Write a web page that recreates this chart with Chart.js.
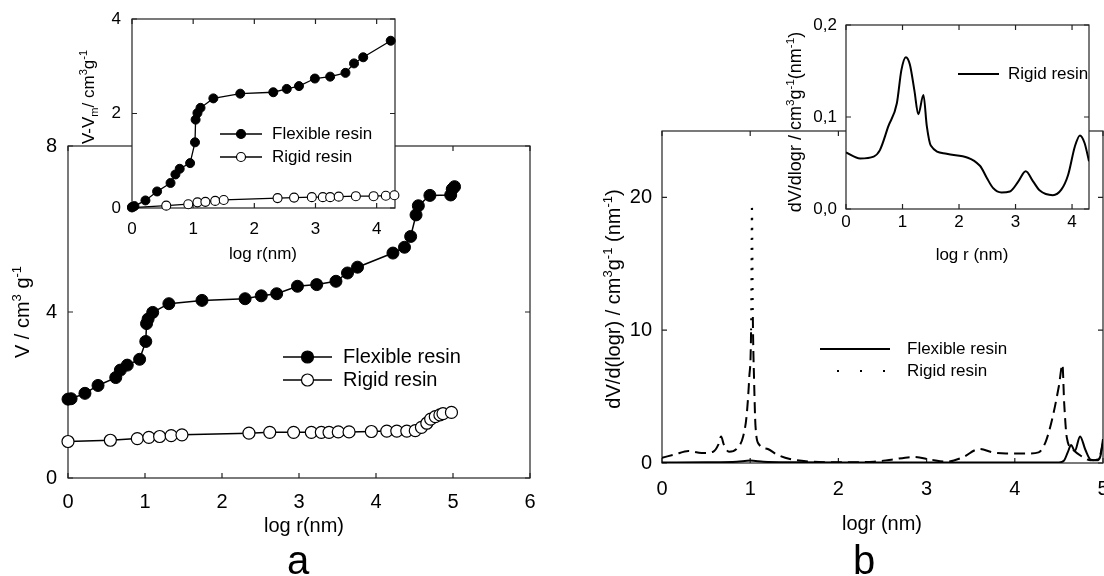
<!DOCTYPE html>
<html>
<head>
<meta charset="utf-8">
<script src="https://cdn.jsdelivr.net/npm/chart.js@4.4.0/dist/chart.umd.min.js"></script>
<style>
body{margin:0;background:#fff;}
#wrap{position:relative;width:1104px;height:576px;overflow:hidden;background:#fff;}
canvas{position:absolute;}
</style>
</head>
<body>
<div id="wrap">
<canvas id="mainA" width="560" height="576" style="left:0;top:0"></canvas>
<canvas id="mainB" width="544" height="576" style="left:560px;top:0"></canvas>
<canvas id="insetA" width="360" height="280" style="left:60px;top:0"></canvas>
<canvas id="insetB" width="344" height="280" style="left:760px;top:0"></canvas>
</div>
<script>
const FONT = "'Liberation Sans', Arial, sans-serif";
const seriesNames = ['Flexible resin', 'Rigid resin'];

// panel a, main plot: V vs log r
const aFlexLogR = [0, 0.04, 0.22, 0.39, 0.62, 0.68, 0.77, 0.93, 1.01, 1.02, 1.04, 1.10, 1.31, 1.74, 2.30, 2.51, 2.71, 2.98, 3.23, 3.48, 3.63, 3.76, 4.22, 4.37, 4.45, 4.52, 4.55, 4.70, 4.97, 4.99, 5.02];
const aFlexV    = [1.90, 1.91, 2.04, 2.23, 2.42, 2.60, 2.72, 2.86, 3.29, 3.72, 3.83, 3.99, 4.20, 4.28, 4.32, 4.39, 4.44, 4.62, 4.66, 4.74, 4.94, 5.08, 5.42, 5.56, 5.82, 6.34, 6.56, 6.81, 6.82, 6.96, 7.02];
const aRigidLogR = [0, 0.55, 0.90, 1.05, 1.19, 1.34, 1.48, 2.35, 2.62, 2.93, 3.16, 3.29, 3.39, 3.51, 3.65, 3.94, 4.14, 4.27, 4.40, 4.51, 4.59, 4.66, 4.71, 4.77, 4.83, 4.87, 4.98];
const aRigidV    = [0.88, 0.91, 0.95, 0.98, 1.00, 1.02, 1.04, 1.08, 1.10, 1.10, 1.10, 1.10, 1.10, 1.11, 1.11, 1.12, 1.13, 1.13, 1.13, 1.14, 1.22, 1.32, 1.42, 1.48, 1.52, 1.55, 1.58];
const aXTicks = [0, 1, 2, 3, 4, 5, 6];
const aYTicks = [0, 4, 8];

// panel a, inset: V - Vm
const aiFlexLogR = [0, 0.04, 0.22, 0.41, 0.63, 0.71, 0.78, 0.95, 1.03, 1.04, 1.07, 1.12, 1.33, 1.77, 2.31, 2.53, 2.73, 2.99, 3.24, 3.49, 3.63, 3.78, 4.23];
const aiFlexV    = [0.02, 0.04, 0.16, 0.35, 0.53, 0.71, 0.83, 0.95, 1.39, 1.87, 2.01, 2.12, 2.32, 2.42, 2.45, 2.52, 2.58, 2.74, 2.78, 2.86, 3.06, 3.19, 3.54];
const aiRigidLogR = [0, 0.56, 0.92, 1.07, 1.20, 1.36, 1.50, 2.38, 2.65, 2.94, 3.12, 3.24, 3.38, 3.66, 3.95, 4.15, 4.29];
const aiRigidV    = [0.01, 0.05, 0.08, 0.12, 0.13, 0.15, 0.17, 0.21, 0.22, 0.23, 0.23, 0.23, 0.24, 0.25, 0.25, 0.26, 0.27];
const aiXTicks = [0, 1, 2, 3, 4];
const aiYTicks = [0, 2, 4];

// panel b, main plot: dV/d(logr)
const bFlexLogR = [0, 0.5, 0.85, 1.0, 1.15, 1.5, 2, 3, 4, 4.5, 4.56, 4.6, 4.64, 4.68, 4.74, 4.8, 4.86, 4.93, 4.97, 5.0];
const bFlexDV   = [0.03, 0.05, 0.1, 0.18, 0.1, 0.05, 0.03, 0.03, 0.03, 0.04, 0.2, 0.8, 1.35, 0.9, 2.0, 1.0, 0.25, 0.2, 0.5, 1.8];
const bRigidLogR = [0, 0.15, 0.3, 0.45, 0.58, 0.64, 0.67, 0.7, 0.76, 0.85, 0.92, 0.96, 0.99, 1.01, 1.02, 1.03, 1.045, 1.06, 1.1, 1.2, 1.3, 1.45, 1.7, 2.0, 2.4, 2.6, 2.85, 3.05, 3.22, 3.4, 3.6, 3.75, 3.9, 4.15, 4.27, 4.35, 4.42, 4.5, 4.54, 4.56, 4.59, 4.66, 4.77, 4.86, 4.95, 5.0];
const bRigidDV   = [0.4, 0.65, 0.9, 0.75, 0.85, 1.4, 2.0, 1.4, 0.85, 1.1, 2.0, 3.6, 6.5, 10, 19.5, 11, 6, 2.8, 1.4, 1.05, 0.65, 0.3, 0.1, 0.05, 0.1, 0.25, 0.45, 0.25, 0.1, 0.4, 1.05, 0.8, 0.72, 0.72, 0.8, 1.6, 3.2, 5.8, 7.4, 4.5, 1.9, 1.0, 0.45, 0.2, 0.3, 1.5];
const bXTicks = [0, 1, 2, 3, 4, 5];
const bYTicks = [0, 10, 20];

// panel b, inset: rigid resin only
const biRigidLogR = [0, 0.25, 0.49, 0.6, 0.75, 0.9, 0.98, 1.06, 1.13, 1.21, 1.28, 1.37, 1.43, 1.5, 1.78, 2.37, 2.49, 2.6, 2.75, 2.9, 3.05, 3.18, 3.31, 3.43, 3.66, 3.81, 3.93, 4.05, 4.14, 4.22, 4.3];
const biRigidDV   = [0.0615, 0.055, 0.057, 0.064, 0.09, 0.115, 0.151, 0.165, 0.157, 0.129, 0.103, 0.124, 0.09, 0.069, 0.06, 0.047, 0.034, 0.023, 0.018, 0.019, 0.03, 0.041, 0.03, 0.02, 0.015, 0.021, 0.037, 0.068, 0.08, 0.072, 0.052];
const biXTicks = [0, 1, 2, 3, 4];
const biYTicks = [0, 0.1, 0.2];

function pts(xs, ys) { return xs.map((x, i) => ({ x: x, y: ys[i] })); }
function fixedTicks(vals) { return s => { s.ticks = vals.map(v => ({ value: v })); }; }
function fixSize(prop, val) {
  return s => { s[prop] = val; s.paddingLeft = 0; s.paddingRight = 0; s.paddingTop = 0; s.paddingBottom = 0; };
}

// text with superscripts / subscripts, centred on (x, y), optionally rotated
function drawRich(ctx, t) {
  const size = t.size;
  const parts = t.parts.map(p => {
    const kind = p[1] || 'n';
    const fs = kind === 'n' ? size : size * 0.65;
    ctx.font = fs + 'px ' + FONT;
    return { s: p[0], kind: kind, fs: fs, w: ctx.measureText(p[0]).width };
  });
  const total = parts.reduce((s, p) => s + p.w, 0);
  ctx.save();
  ctx.translate(t.x, t.y);
  if (t.rot) ctx.rotate(-Math.PI / 2);
  ctx.fillStyle = '#000';
  ctx.textBaseline = 'alphabetic';
  let x = -total / 2;
  parts.forEach(p => {
    ctx.font = p.fs + 'px ' + FONT;
    let dy = size * 0.36;
    if (p.kind === 'sup') dy -= size * 0.42;
    if (p.kind === 'sub') dy += size * 0.2;
    ctx.fillText(p.s, x, dy);
    x += p.w;
  });
  ctx.restore();
}

function drawLegend(ctx, lg, a) {
  ctx.save();
  if (lg.clip) { ctx.beginPath(); ctx.rect(a.left, a.top, a.width, a.height); ctx.clip(); }
  lg.items.forEach((it, i) => {
    const y = lg.rows[i];
    ctx.strokeStyle = '#000';
    ctx.lineWidth = it.lw || 1.5;
    ctx.setLineDash(it.dash || []);
    ctx.lineDashOffset = it.dashOffset || 0;
    ctx.beginPath(); ctx.moveTo(lg.x0, y); ctx.lineTo(lg.x1, y); ctx.stroke();
    ctx.setLineDash([]);
    if (it.point) {
      ctx.beginPath();
      ctx.arc((lg.x0 + lg.x1) / 2, y, lg.radius, 0, Math.PI * 2);
      ctx.fillStyle = it.point; ctx.fill();
      ctx.lineWidth = 1.2; ctx.stroke();
    }
    ctx.fillStyle = '#000';
    ctx.font = lg.size + 'px ' + FONT;
    ctx.textBaseline = 'middle';
    ctx.fillText(it.label, lg.textX, y);
  });
  ctx.restore();
}

// box frame with inward ticks, titles and legend
const framePlugin = {
  id: 'frame',
  beforeDatasetsDraw(chart, args, o) {
    const ctx = chart.ctx, a = chart.chartArea, sx = chart.scales.x, sy = chart.scales.y;
    ctx.save();
    if (o.fill) { ctx.fillStyle = '#fff'; ctx.fillRect(a.left, a.top, a.width, a.height); }
    ctx.strokeStyle = '#222';
    ctx.lineWidth = 1.2;
    ctx.strokeRect(a.left, a.top, a.width, a.height);
    ctx.beginPath();
    sx.ticks.forEach(t => {
      const p = sx.getPixelForValue(t.value);
      ctx.moveTo(p, a.bottom); ctx.lineTo(p, a.bottom - 5);
      ctx.moveTo(p, a.top); ctx.lineTo(p, a.top + 5);
    });
    sy.ticks.forEach(t => {
      const p = sy.getPixelForValue(t.value);
      ctx.moveTo(a.left, p); ctx.lineTo(a.left + 5, p);
      ctx.moveTo(a.right, p); ctx.lineTo(a.right - 5, p);
    });
    ctx.stroke();
    ctx.restore();
  },
  afterDraw(chart, args, o) {
    const ctx = chart.ctx;
    (o.titles || []).forEach(t => drawRich(ctx, t));
    if (o.legend) drawLegend(ctx, o.legend, chart.chartArea);
  }
};

function axis(ticksArr, min, max, isX, size, fontSize, pad, cb) {
  const o = {
    type: 'linear', min: min, max: max,
    afterBuildTicks: fixedTicks(ticksArr),
    afterFit: fixSize(isX ? 'height' : 'width', size),
    grid: { display: false, drawTicks: false },
    border: { display: false },
    ticks: { color: '#000', font: { family: FONT, size: fontSize }, padding: pad }
  };
  if (cb) o.ticks.callback = cb;
  return o;
}

function baseOptions(padding, xs, ys, frame) {
  return {
    responsive: false,
    animation: false,
    events: [],
    layout: { padding: padding },
    plugins: { legend: { display: false }, tooltip: { enabled: false }, frame: frame },
    scales: { x: xs, y: ys }
  };
}

// ---- panel a, main
new Chart(document.getElementById('mainA'), {
  type: 'scatter',
  data: { datasets: [
    { label: seriesNames[0], data: pts(aFlexLogR, aFlexV), showLine: true, borderColor: '#000', borderWidth: 1.5,
      pointRadius: 6, pointBackgroundColor: '#000', pointBorderColor: '#000', pointBorderWidth: 1, clip: false },
    { label: seriesNames[1], data: pts(aRigidLogR, aRigidV), showLine: true, borderColor: '#000', borderWidth: 1.5,
      pointRadius: 6, pointBackgroundColor: '#fff', pointBorderColor: '#000', pointBorderWidth: 1.2, clip: false }
  ]},
  options: baseOptions({ left: 28, right: 30, top: 146, bottom: 48 },
    axis(aXTicks, 0, 6, true, 50, 20, 12),
    axis(aYTicks, 0, 8, false, 40, 20, 11),
    {
      titles: [
        { parts: [['log r(nm)']], x: 304, y: 525, size: 20 },
        { parts: [['a']], x: 298, y: 560, size: 40 },
        { parts: [['V / cm'], ['3', 'sup'], [' g'], ['-1', 'sup']], x: 22, y: 312, size: 20, rot: true }
      ],
      legend: { x0: 283, x1: 332, textX: 343, rows: [357, 380], size: 20, radius: 6,
        items: [{ label: seriesNames[0], point: '#000' }, { label: seriesNames[1], point: '#fff' }] }
    }),
  plugins: [framePlugin]
});

// ---- panel b, main
new Chart(document.getElementById('mainB'), {
  type: 'scatter',
  data: { datasets: [
    { label: seriesNames[0], data: pts(bFlexLogR, bFlexDV), showLine: true, borderColor: '#000', borderWidth: 2,
      pointRadius: 0, cubicInterpolationMode: 'monotone' },
    { label: seriesNames[1], data: pts(bRigidLogR, bRigidDV), showLine: true, borderColor: '#000', borderWidth: 2,
      pointRadius: 0, cubicInterpolationMode: 'monotone', borderDash: [11, 6],
      segment: { borderDash: c => Math.max(c.p0.parsed.y, c.p1.parsed.y) > 15 ? [2, 8] : undefined } }
  ]},
  options: baseOptions({ left: 52, right: 1, top: 131, bottom: 63 },
    axis(bXTicks, 0, 5, true, 50, 20, 14),
    axis(bYTicks, 0, 25, false, 50, 20, 10),
    {
      titles: [
        { parts: [['logr (nm)']], x: 322, y: 523, size: 20 },
        { parts: [['b']], x: 304, y: 560, size: 40 },
        { parts: [['dV/d(logr) / cm'], ['3', 'sup'], ['g'], ['-1', 'sup'], [' (nm'], ['-1', 'sup'], [')']], x: 53, y: 299, size: 20, rot: true }
      ],
      legend: { x0: 260, x1: 330, textX: 347, rows: [349, 371], size: 17,
        items: [{ label: seriesNames[0], lw: 2 }, { label: seriesNames[1], lw: 2, dash: [2, 21], dashOffset: -17 }] }
    }),
  plugins: [framePlugin]
});

// ---- panel a, inset
new Chart(document.getElementById('insetA'), {
  type: 'scatter',
  data: { datasets: [
    { label: seriesNames[0], data: pts(aiFlexLogR, aiFlexV), showLine: true, borderColor: '#000', borderWidth: 1.3,
      pointRadius: 4.5, pointBackgroundColor: '#000', pointBorderColor: '#000', pointBorderWidth: 1, clip: false },
    { label: seriesNames[1], data: pts(aiRigidLogR, aiRigidV), showLine: true, borderColor: '#000', borderWidth: 1.3,
      pointRadius: 4.5, pointBackgroundColor: '#fff', pointBorderColor: '#000', pointBorderWidth: 1.1, clip: false }
  ]},
  options: baseOptions({ left: 32, right: 25, top: 19, bottom: 32 },
    axis(aiXTicks, 0, 4.3, true, 40, 17, 11),
    axis(aiYTicks, 0, 4, false, 40, 17, 11),
    {
      fill: true,
      titles: [
        { parts: [['log r(nm)']], x: 203, y: 253, size: 17 },
        { parts: [['V-V'], ['m', 'sub'], ['/ cm'], ['3', 'sup'], ['g'], ['-1', 'sup']], x: 28, y: 97, size: 17, rot: true }
      ],
      legend: { x0: 160, x1: 202, textX: 212, rows: [134, 157], size: 17, radius: 4.5,
        items: [{ label: seriesNames[0], point: '#000', lw: 1.3 }, { label: seriesNames[1], point: '#fff', lw: 1.3 }] }
    }),
  plugins: [framePlugin]
});

// ---- panel b, inset
new Chart(document.getElementById('insetB'), {
  type: 'scatter',
  data: { datasets: [
    { label: seriesNames[1], data: pts(biRigidLogR, biRigidDV), showLine: true, borderColor: '#000', borderWidth: 2,
      pointRadius: 0, cubicInterpolationMode: 'monotone' }
  ]},
  options: baseOptions({ left: 41, right: 15, top: 25, bottom: 31 },
    axis(biXTicks, 0, 4.3, true, 40, 17, 3),
    axis(biYTicks, 0, 0.2, false, 45, 17, 9, v => v.toFixed(1).replace('.', ',')),
    {
      fill: true,
      titles: [
        { parts: [['log r (nm)']], x: 212, y: 254, size: 17 },
        { parts: [['dV/dlogr / cm'], ['3', 'sup'], ['g'], ['-1', 'sup'], ['(nm'], ['-1', 'sup'], [')']], x: 35, y: 122, size: 18, rot: true }
      ],
      legend: { x0: 198, x1: 239, textX: 248, rows: [74], size: 17, clip: true,
        items: [{ label: seriesNames[1], lw: 2 }] }
    }),
  plugins: [framePlugin]
});
</script>
</body>
</html>
